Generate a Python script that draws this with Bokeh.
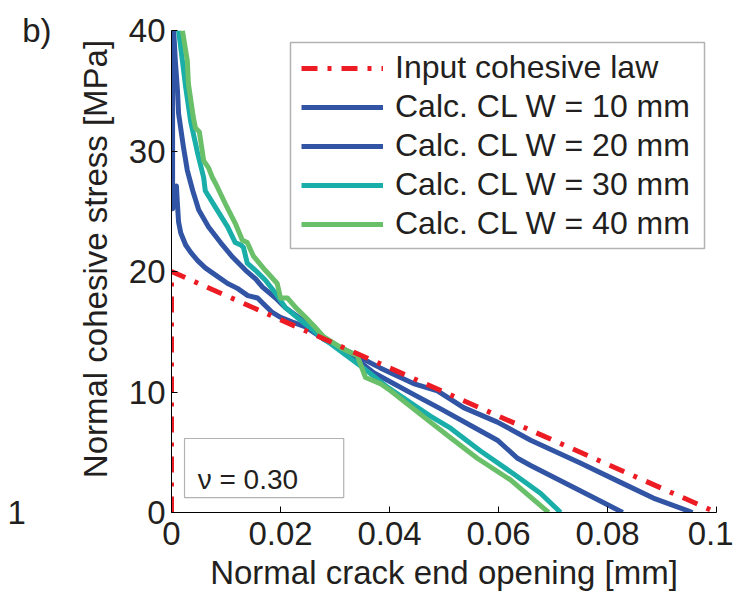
from bokeh.plotting import figure
from bokeh.models import Range1d, FixedTicker, Legend, LegendItem, Label, BoxAnnotation, LinearAxis
from bokeh.embed import file_html
from bokeh.resources import INLINE

# ---- data ----
x_ticks = [0, 0.02, 0.04, 0.06, 0.08, 0.1]
x_tick_labels = ["0", "0.02", "0.04", "0.06", "0.08", "0.1"]
y_ticks = [0, 10, 20, 30, 40]
y_tick_labels = ["0", "10", "20", "30", "40"]

input_x = [0.0, 0.0, 0.1]
input_y = [0.0, 20.0, 0.0]

w10_x = [0.0002, 0.0002, 0.0009, 0.0011, 0.0013, 0.0017, 0.0026, 0.0035, 0.0048, 0.0062,
         0.0081, 0.0103, 0.0121, 0.0140, 0.0158, 0.0169, 0.0185, 0.0200, 0.0222, 0.0246,
         0.0279, 0.0323, 0.0383, 0.0444, 0.0488, 0.0536, 0.0598, 0.0659, 0.0750, 0.0824,
         0.0884, 0.0956]
w10_y = [40.0, 25.2, 27.1, 25.5, 24.1, 23.2, 22.2, 21.6, 20.9, 20.3,
         19.7, 19.0, 18.6, 18.0, 17.8, 17.3, 16.6, 16.2, 15.8, 15.4,
         14.4, 13.4, 12.0, 10.7, 10.1, 8.7, 7.5, 6.0, 4.1, 2.5,
         1.2, 0.0]

w20_x = [0.0004, 0.0007, 0.0011, 0.0013, 0.0022, 0.0029, 0.0039, 0.0050, 0.0068, 0.0090,
         0.0112, 0.0136, 0.0154, 0.0167, 0.0191, 0.0209, 0.0233, 0.0251, 0.0279, 0.0323,
         0.0371, 0.0444, 0.0494, 0.0554, 0.0598, 0.0635, 0.0659, 0.0750, 0.0828]
w20_y = [40.0, 37.5, 35.0, 33.1, 30.3, 28.4, 26.7, 25.1, 23.7, 22.4,
         21.2, 20.1, 19.4, 18.7, 17.8, 17.0, 16.2, 15.7, 14.4, 13.3,
         11.6, 9.8, 8.6, 7.1, 6.0, 4.5, 3.9, 1.8, 0.0]

w30_x = [0.0013, 0.0020, 0.0026, 0.0035, 0.0048, 0.0059, 0.0062, 0.0081, 0.0103, 0.0117,
         0.0127, 0.0132, 0.0139, 0.0154, 0.0172, 0.0191, 0.0209, 0.0233, 0.0255, 0.0279,
         0.0292, 0.0352, 0.0396, 0.0475, 0.0512, 0.0567, 0.0628, 0.0677, 0.0714]
w30_y = [40.0, 37.5, 35.3, 32.5, 29.8, 27.8, 26.7, 25.3, 23.7, 22.4,
         22.2, 22.0, 20.7, 20.1, 19.3, 18.2, 17.0, 16.1, 15.3, 14.4,
         14.0, 12.0, 10.4, 8.0, 7.0, 5.1, 3.2, 1.6, 0.0]

w40_x = [0.0020, 0.0029, 0.0031, 0.0040, 0.0044, 0.0051, 0.0059, 0.0068, 0.0075, 0.0081,
         0.0099, 0.0117, 0.0130, 0.0139, 0.0150, 0.0172, 0.0194, 0.0200, 0.0213, 0.0228,
         0.0246, 0.0261, 0.0279, 0.0310, 0.0341, 0.0356, 0.0383, 0.0402, 0.0475, 0.0512,
         0.0561, 0.0622, 0.0692]
w40_y = [40.0, 37.5, 35.6, 32.8, 31.9, 31.6, 29.2, 28.6, 27.8, 27.3,
         25.6, 24.0, 22.6, 22.4, 21.3, 20.1, 19.0, 17.8, 17.8, 17.0,
         16.2, 15.5, 14.6, 13.7, 13.0, 11.2, 10.7, 10.1, 7.5, 6.2,
         4.5, 2.7, 0.0]

series_labels = ["Input cohesive law", "Calc. CL W = 10 mm", "Calc. CL W = 20 mm",
                 "Calc. CL W = 30 mm", "Calc. CL W = 40 mm"]
nu_text = "\u03bd = 0.30"
# outer-left texts: panel letter and a cut-off tick label from a neighbouring panel
side_tick_values = [0, 40]
side_tick_labels = ["1\u2002\u00a0", "b)"]

# ---- styling ----
FONT = "Liberation Sans"
TXT = "#231f20"
RED = "#ed1c24"
BLUE = "#3155a4"
TEAL = "#1aaea9"
GREEN = "#6abf69"

p = figure(width=733, height=596, output_backend="svg", toolbar_location=None,
           x_range=Range1d(0, 0.1), y_range=Range1d(0, 40),
           min_border_left=171, min_border_right=17, min_border_top=30, min_border_bottom=84)
p.outline_line_color = None
p.xgrid.visible = False
p.ygrid.visible = False
p.background_fill_color = "white"
p.border_fill_color = "white"

for ax in (p.xaxis[0], p.yaxis[0]):
    ax.axis_line_color = "black"
    ax.axis_line_width = 1
    ax.major_tick_in = 6
    ax.major_tick_out = 0
    ax.major_tick_line_color = "black"
    ax.minor_tick_line_color = None
    ax.major_label_text_font = FONT
    ax.major_label_text_font_size = "33px"
    ax.major_label_text_color = TXT
    ax.axis_label_text_font = FONT
    ax.axis_label_text_font_size = "33px"
    ax.axis_label_text_font_style = "normal"
    ax.axis_label_text_color = TXT

p.xaxis.ticker = FixedTicker(ticks=x_ticks)
p.xaxis.major_label_overrides = {t: l for t, l in zip(x_ticks, x_tick_labels)}
p.yaxis.ticker = FixedTicker(ticks=y_ticks)
p.yaxis.major_label_overrides = {t: l for t, l in zip(y_ticks, y_tick_labels)}
p.xaxis.axis_label = "Normal crack end opening [mm]"
p.yaxis.axis_label = "\u00a0\u00a0\u2009Normal cohesive stress [MPa]"
p.xaxis.major_label_standoff = 9
p.xaxis.axis_label_standoff = 6
p.yaxis.major_label_standoff = 6
p.yaxis.axis_label_standoff = 12

# extra, invisible left axis carrying the outer texts
side_axis = LinearAxis(ticker=FixedTicker(ticks=side_tick_values),
                       major_label_overrides={v: t for v, t in zip(side_tick_values, side_tick_labels)})
side_axis.axis_line_color = None
side_axis.major_tick_line_color = None
side_axis.minor_tick_line_color = None
side_axis.major_tick_in = 0
side_axis.major_tick_out = 0
side_axis.major_label_standoff = 22
side_axis.major_label_text_font = FONT
side_axis.major_label_text_font_size = "33px"
side_axis.major_label_text_color = TXT
p.add_layout(side_axis, "left")

r10 = p.line(w10_x, w10_y, line_color=BLUE, line_width=5, line_join="round")
r20 = p.line(w20_x, w20_y, line_color=BLUE, line_width=5, line_join="round")
r30 = p.line(w30_x, w30_y, line_color=TEAL, line_width=5, line_join="round")
r40 = p.line(w40_x, w40_y, line_color=GREEN, line_width=5, line_join="round")
rin = p.line(input_x, input_y, line_color=RED, line_width=5, line_dash="16 10 4 10")

# legend frame (drawn as a box behind the legend entries)
legend_box = BoxAnnotation(left=0.02183, right=0.0978, bottom=21.9, top=39.0,
                           fill_color="white", fill_alpha=1.0,
                           line_color="black", line_width=1.5)
p.add_layout(legend_box)

legend = Legend(items=[LegendItem(label=series_labels[0], renderers=[rin]),
                       LegendItem(label=series_labels[1], renderers=[r10]),
                       LegendItem(label=series_labels[2], renderers=[r20]),
                       LegendItem(label=series_labels[3], renderers=[r30]),
                       LegendItem(label=series_labels[4], renderers=[r40])],
                location=(130, 270))
legend.label_text_font = FONT
legend.label_text_font_size = "32px"
legend.label_text_color = TXT
legend.glyph_width = 82
legend.glyph_height = 20
legend.label_standoff = 12
legend.spacing = 2
legend.padding = 10
legend.margin = 0
legend.border_line_color = None
legend.background_fill_alpha = 0.0
p.add_layout(legend, "center")

box = BoxAnnotation(left=0.00239, right=0.0316, bottom=1.24, top=6.14,
                    fill_alpha=0, line_color="black", line_width=1.2)
p.add_layout(box)
p.add_layout(Label(x=0.0048, y=2.7, text=nu_text, text_font=FONT, text_font_size="28px",
                   text_color=TXT, text_baseline="alphabetic"))

open("out.html", "w").write(file_html(p, INLINE))
